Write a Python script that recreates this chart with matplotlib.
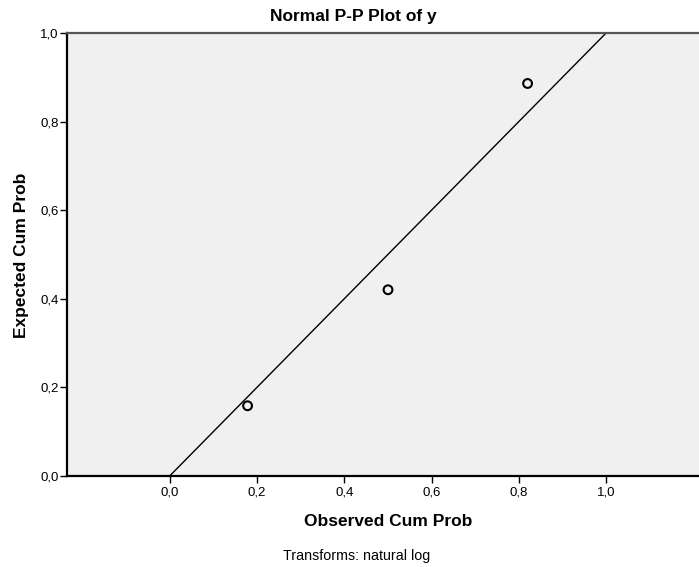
import matplotlib
matplotlib.use("Agg")
import matplotlib.pyplot as plt
from matplotlib.ticker import FuncFormatter

plt.rcParams['font.family'] = ['Liberation Sans', 'DejaVu Sans']

observed = [0.178, 0.500, 0.820]
expected = [0.158, 0.420, 0.886]
ref_line = [0.0, 1.0]
ticks = [0.0, 0.2, 0.4, 0.6, 0.8, 1.0]

fig = plt.figure(figsize=(6.99, 5.67), dpi=100)
ax = fig.add_axes([67/699, (567-475.7)/567, 1-67/699, (475.7-33)/567])
ax.set_facecolor('#f0f0f0')
ax.set_xlim(-0.236, 1.213)
ax.set_ylim(0, 1)

ax.plot(ref_line, ref_line, color='black', lw=1.0, clip_on=True)
ax.scatter(observed, expected, s=40, facecolors='none', edgecolors='black', linewidths=1.5, zorder=3)

fmt = FuncFormatter(lambda v, p: f"{v:.1f}".replace('.', ','))
ax.set_xticks(ticks)
ax.set_yticks(ticks)
ax.xaxis.set_major_formatter(fmt)
ax.yaxis.set_major_formatter(fmt)
ax.tick_params(axis='both', direction='out', length=5, width=1, labelsize=9.5, colors='black')
ax.tick_params(axis='x', pad=3)
ax.tick_params(axis='y', pad=1)

for s in ['left', 'bottom']:
    ax.spines[s].set_linewidth(1.6)
    ax.spines[s].set_color('black')
ax.spines['top'].set_linewidth(1.6)
ax.spines['top'].set_color('#555555')
ax.spines['right'].set_visible(False)

fig.text(353/699, 1-17/567, 'Normal P-P Plot of y', ha='center', va='center', fontsize=12.5, fontweight='bold')
fig.text(388/699, 1-521/567, 'Observed Cum Prob', ha='center', va='center', fontsize=12.5, fontweight='bold')
fig.text(22/699, 1-255/567, 'Expected Cum Prob', ha='center', va='center', fontsize=12.5, fontweight='bold', rotation=90)
fig.text(357/699, 1-556/567, 'Transforms: natural log', ha='center', va='center', fontsize=10.3)

fig.savefig('out.png', dpi=100, facecolor='white')
